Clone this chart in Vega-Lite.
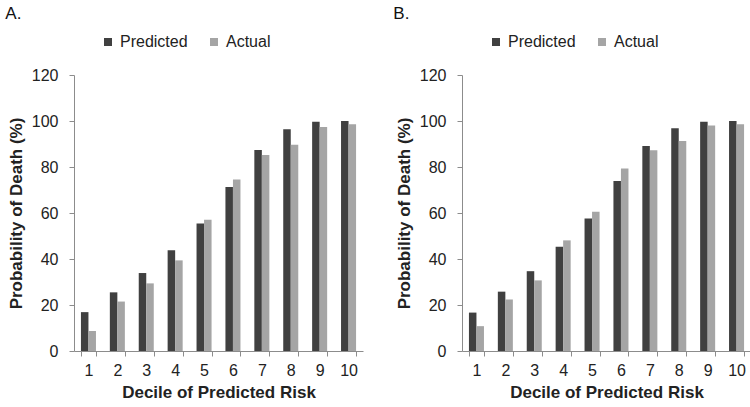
{
  "$schema": "https://vega.github.io/schema/vega-lite/v6.json",
  "padding": {"left": 5, "top": 5, "right": 5, "bottom": 0},
  "background": "white",
  "config": {
    "view": {"stroke": null},
    "font": "Liberation Sans",
    "axis": {
      "domainColor": "#8c8c8c",
      "tickColor": "#8c8c8c",
      "labelFontSize": 16,
      "labelColor": "#222222",
      "titleFontSize": 17,
      "titleFontWeight": "bold",
      "titleColor": "#222222",
      "grid": false,
      "tickSize": 5
    },
    "concat": {"spacing": 30},
    "title": {"fontSize": 17, "fontWeight": "normal", "color": "#111111", "anchor": "start", "frame": "bounds", "offset": 11, "dx": -2},
    "legend": {"labelFontSize": 16, "labelColor": "#222222"}
  },
  "datasets": {
    "a": [
      {"decile": 1, "series": "Predicted", "prob": 16.9},
      {"decile": 1, "series": "Actual", "prob": 8.7},
      {"decile": 2, "series": "Predicted", "prob": 25.5},
      {"decile": 2, "series": "Actual", "prob": 21.5},
      {"decile": 3, "series": "Predicted", "prob": 33.9},
      {"decile": 3, "series": "Actual", "prob": 29.4},
      {"decile": 4, "series": "Predicted", "prob": 43.8},
      {"decile": 4, "series": "Actual", "prob": 39.4},
      {"decile": 5, "series": "Predicted", "prob": 55.4},
      {"decile": 5, "series": "Actual", "prob": 57.1},
      {"decile": 6, "series": "Predicted", "prob": 71.3},
      {"decile": 6, "series": "Actual", "prob": 74.6},
      {"decile": 7, "series": "Predicted", "prob": 87.4},
      {"decile": 7, "series": "Actual", "prob": 85.2},
      {"decile": 8, "series": "Predicted", "prob": 96.4},
      {"decile": 8, "series": "Actual", "prob": 89.7},
      {"decile": 9, "series": "Predicted", "prob": 99.7},
      {"decile": 9, "series": "Actual", "prob": 97.4},
      {"decile": 10, "series": "Predicted", "prob": 100.0},
      {"decile": 10, "series": "Actual", "prob": 98.6}
    ],
    "b": [
      {"decile": 1, "series": "Predicted", "prob": 16.7},
      {"decile": 1, "series": "Actual", "prob": 10.8},
      {"decile": 2, "series": "Predicted", "prob": 25.8},
      {"decile": 2, "series": "Actual", "prob": 22.4},
      {"decile": 3, "series": "Predicted", "prob": 34.7},
      {"decile": 3, "series": "Actual", "prob": 30.7},
      {"decile": 4, "series": "Predicted", "prob": 45.3},
      {"decile": 4, "series": "Actual", "prob": 48.1},
      {"decile": 5, "series": "Predicted", "prob": 57.6},
      {"decile": 5, "series": "Actual", "prob": 60.5},
      {"decile": 6, "series": "Predicted", "prob": 73.9},
      {"decile": 6, "series": "Actual", "prob": 79.4},
      {"decile": 7, "series": "Predicted", "prob": 89.1},
      {"decile": 7, "series": "Actual", "prob": 87.3},
      {"decile": 8, "series": "Predicted", "prob": 96.8},
      {"decile": 8, "series": "Actual", "prob": 91.3},
      {"decile": 9, "series": "Predicted", "prob": 99.7},
      {"decile": 9, "series": "Actual", "prob": 98.0},
      {"decile": 10, "series": "Predicted", "prob": 100.0},
      {"decile": 10, "series": "Actual", "prob": 98.6}
    ]
  },
  "hconcat": [
    {
      "data": {"name": "a"},
      "title": {"text": "A."},
      "width": 289,
      "height": 276,
      "mark": {"type": "bar"},
      "encoding": {
        "x": {
          "field": "decile", "type": "ordinal", "sort": null,
          "scale": {"paddingInner": 0.48, "paddingOuter": 0.24},
          "axis": {"title": "Decile of Predicted Risk", "labelAngle": 0, "tickBand": "extent", "labelPadding": 6, "titlePadding": 6}
        },
        "xOffset": {"field": "series", "type": "nominal", "sort": ["Predicted", "Actual"], "scale": {"paddingInner": 0, "paddingOuter": 0}},
        "y": {
          "field": "prob", "type": "quantitative",
          "scale": {"domain": [0, 120]},
          "axis": {"values": [0, 20, 40, 60, 80, 100, 120], "title": "Probability of Death (%)", "labelPadding": 11, "titlePadding": 6}
        },
        "color": {
          "field": "series", "type": "nominal",
          "scale": {"domain": ["Predicted", "Actual"], "range": ["#404040", "#a5a5a5"]},
          "legend": {"title": null, "orient": "none", "legendX": 26, "legendY": -41, "direction": "horizontal", "symbolType": "square", "symbolSize": 64, "columnPadding": 18, "symbolStrokeWidth": 0}
        }
      }
    },
    {
      "data": {"name": "b"},
      "title": {"text": "B."},
      "width": 289,
      "height": 276,
      "mark": {"type": "bar"},
      "encoding": {
        "x": {
          "field": "decile", "type": "ordinal", "sort": null,
          "scale": {"paddingInner": 0.48, "paddingOuter": 0.24},
          "axis": {"title": "Decile of Predicted Risk", "labelAngle": 0, "tickBand": "extent", "labelPadding": 6, "titlePadding": 6}
        },
        "xOffset": {"field": "series", "type": "nominal", "sort": ["Predicted", "Actual"], "scale": {"paddingInner": 0, "paddingOuter": 0}},
        "y": {
          "field": "prob", "type": "quantitative",
          "scale": {"domain": [0, 120]},
          "axis": {"values": [0, 20, 40, 60, 80, 100, 120], "title": "Probability of Death (%)", "labelPadding": 11, "titlePadding": 6}
        },
        "color": {
          "field": "series", "type": "nominal",
          "scale": {"domain": ["Predicted", "Actual"], "range": ["#404040", "#a5a5a5"]},
          "legend": {"title": null, "orient": "none", "legendX": 26, "legendY": -41, "direction": "horizontal", "symbolType": "square", "symbolSize": 64, "columnPadding": 18, "symbolStrokeWidth": 0}
        }
      }
    }
  ],
  "resolve": {"legend": {"color": "independent"}}
}
